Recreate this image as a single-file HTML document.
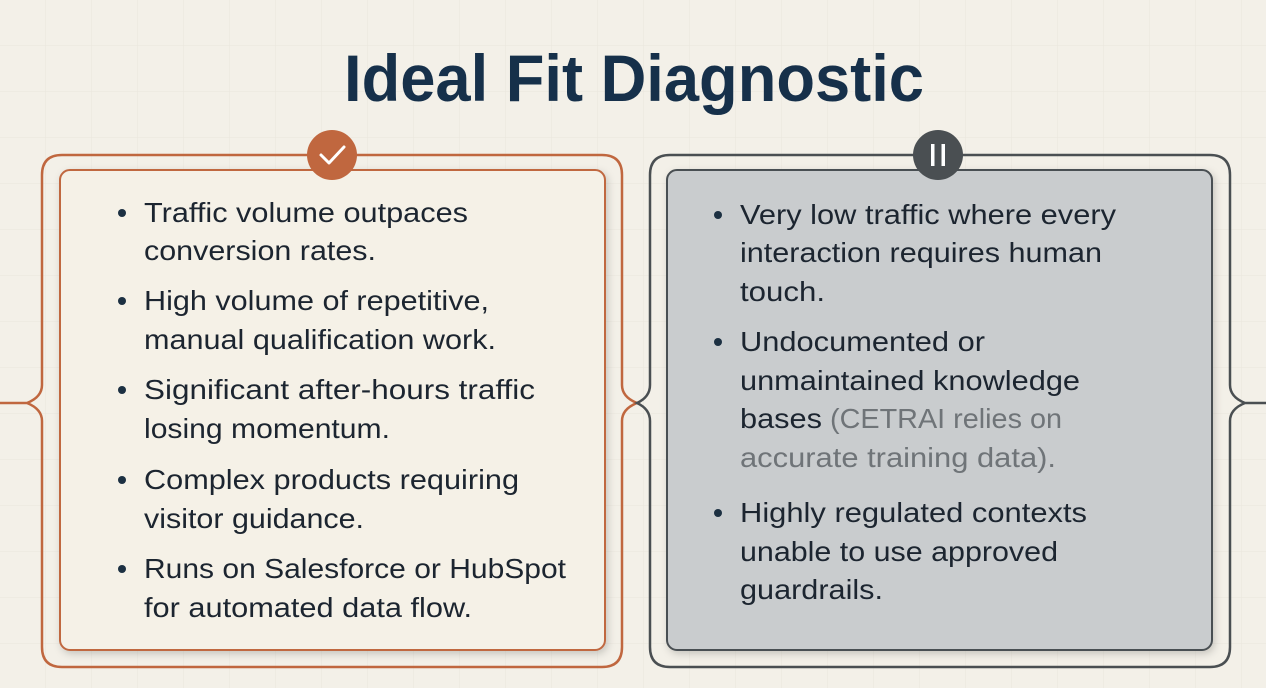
<!DOCTYPE html>
<html><head><meta charset="utf-8"><style>
html,body{margin:0;padding:0;background:#f3f0e8;}
svg{display:block;}
text{font-family:"Liberation Sans",sans-serif;}
</style></head><body>
<svg width="1266" height="688" viewBox="0 0 1266 688" xmlns="http://www.w3.org/2000/svg">
<defs>
<pattern id="g" width="46" height="46" patternUnits="userSpaceOnUse">
<path d="M46 0V46M0 46H46" stroke="#e6e2d8" stroke-width="1" fill="none"/>
</pattern>
<filter id="sh" x="-10%" y="-10%" width="120%" height="120%"><feDropShadow dx="2" dy="3" stdDeviation="4" flood-color="#000" flood-opacity="0.18"/></filter>
</defs>
<rect width="1266" height="688" fill="#f3f0e8"/>
<rect width="1266" height="688" fill="url(#g)" opacity="0.7"/>

<text x="634" y="101" text-anchor="middle" font-size="66" font-weight="bold" fill="#16304a" textLength="580" lengthAdjust="spacingAndGlyphs">Ideal Fit Diagnostic</text>

<!-- left outer frame -->
<g fill="none" stroke="#c0673f" stroke-width="2.5">
<path d="M27 403 Q42 397 42 385 V175 Q42 155 62 155 H602 Q622 155 622 175 V385 Q622 397 637 403 Q622 409 622 421 V647 Q622 667 602 667 H62 Q42 667 42 647 V421 Q42 409 27 403 H0"/>
</g>
<!-- right outer frame -->
<g fill="none" stroke="#4a4f52" stroke-width="2.5">
<path d="M1245 403 Q1230 397 1230 385 V175 Q1230 155 1210 155 H670 Q650 155 650 175 V385 Q650 397 637 403 Q650 409 650 421 V647 Q650 667 670 667 H1210 Q1230 667 1230 647 V421 Q1230 409 1245 403 H1266"/>
</g>

<!-- cards -->
<rect x="60" y="170" width="545" height="480" rx="10" fill="#f5f1e7" stroke="#c0673f" stroke-width="2" filter="url(#sh)"/>
<rect x="667" y="170" width="545" height="480" rx="10" fill="#c9ccce" stroke="#4a4f52" stroke-width="2" filter="url(#sh)"/>

<!-- badges -->
<circle cx="332" cy="155" r="25" fill="#c0673f"/>
<path d="M321 155 L329 163 L344 147" fill="none" stroke="#fff" stroke-width="3" stroke-linecap="round" stroke-linejoin="round"/>
<circle cx="938" cy="155" r="25" fill="#4a4f52"/>
<rect x="931" y="144" width="3.5" height="22" fill="#fff"/>
<rect x="941.5" y="144" width="3.5" height="22" fill="#fff"/>

<g font-size="28" fill="#1c2530">
<g fill="#1c3042">
<circle cx="122" cy="213" r="4"/><circle cx="122" cy="301" r="4"/><circle cx="122" cy="390" r="4"/><circle cx="122" cy="480" r="4"/><circle cx="122" cy="569" r="4"/>
<circle cx="718" cy="215" r="4"/><circle cx="718" cy="342" r="4"/><circle cx="718" cy="513" r="4"/>
</g>
<text x="144" y="222" textLength="324" lengthAdjust="spacingAndGlyphs">Traffic volume outpaces</text>
<text x="144" y="260" textLength="232" lengthAdjust="spacingAndGlyphs">conversion rates.</text>
<text x="144" y="310" textLength="345" lengthAdjust="spacingAndGlyphs">High volume of repetitive,</text>
<text x="144" y="349" textLength="352" lengthAdjust="spacingAndGlyphs">manual qualification work.</text>
<text x="144" y="399" textLength="391" lengthAdjust="spacingAndGlyphs">Significant after-hours traffic</text>
<text x="144" y="438" textLength="246" lengthAdjust="spacingAndGlyphs">losing momentum.</text>
<text x="144" y="489" textLength="375" lengthAdjust="spacingAndGlyphs">Complex products requiring</text>
<text x="144" y="528" textLength="220" lengthAdjust="spacingAndGlyphs">visitor guidance.</text>
<text x="144" y="578" textLength="422" lengthAdjust="spacingAndGlyphs">Runs on Salesforce or HubSpot</text>
<text x="144" y="617" textLength="328" lengthAdjust="spacingAndGlyphs">for automated data flow.</text>

<text x="740" y="224" textLength="376" lengthAdjust="spacingAndGlyphs">Very low traffic where every</text>
<text x="740" y="262" textLength="362" lengthAdjust="spacingAndGlyphs">interaction requires human</text>
<text x="740" y="301" textLength="85" lengthAdjust="spacingAndGlyphs">touch.</text>
<text x="740" y="351" textLength="245" lengthAdjust="spacingAndGlyphs">Undocumented or</text>
<text x="740" y="390" textLength="340" lengthAdjust="spacingAndGlyphs">unmaintained knowledge</text>
<text x="740" y="428" textLength="82" lengthAdjust="spacingAndGlyphs">bases</text>
<text x="830" y="428" fill="#6f7478" textLength="232" lengthAdjust="spacingAndGlyphs">(CETRAI relies on</text>
<text x="740" y="467" fill="#6f7478" textLength="316" lengthAdjust="spacingAndGlyphs">accurate training data).</text>
<text x="740" y="522" textLength="347" lengthAdjust="spacingAndGlyphs">Highly regulated contexts</text>
<text x="740" y="561" textLength="318" lengthAdjust="spacingAndGlyphs">unable to use approved</text>
<text x="740" y="599" textLength="143" lengthAdjust="spacingAndGlyphs">guardrails.</text>
</g>
</svg>
</body></html>
